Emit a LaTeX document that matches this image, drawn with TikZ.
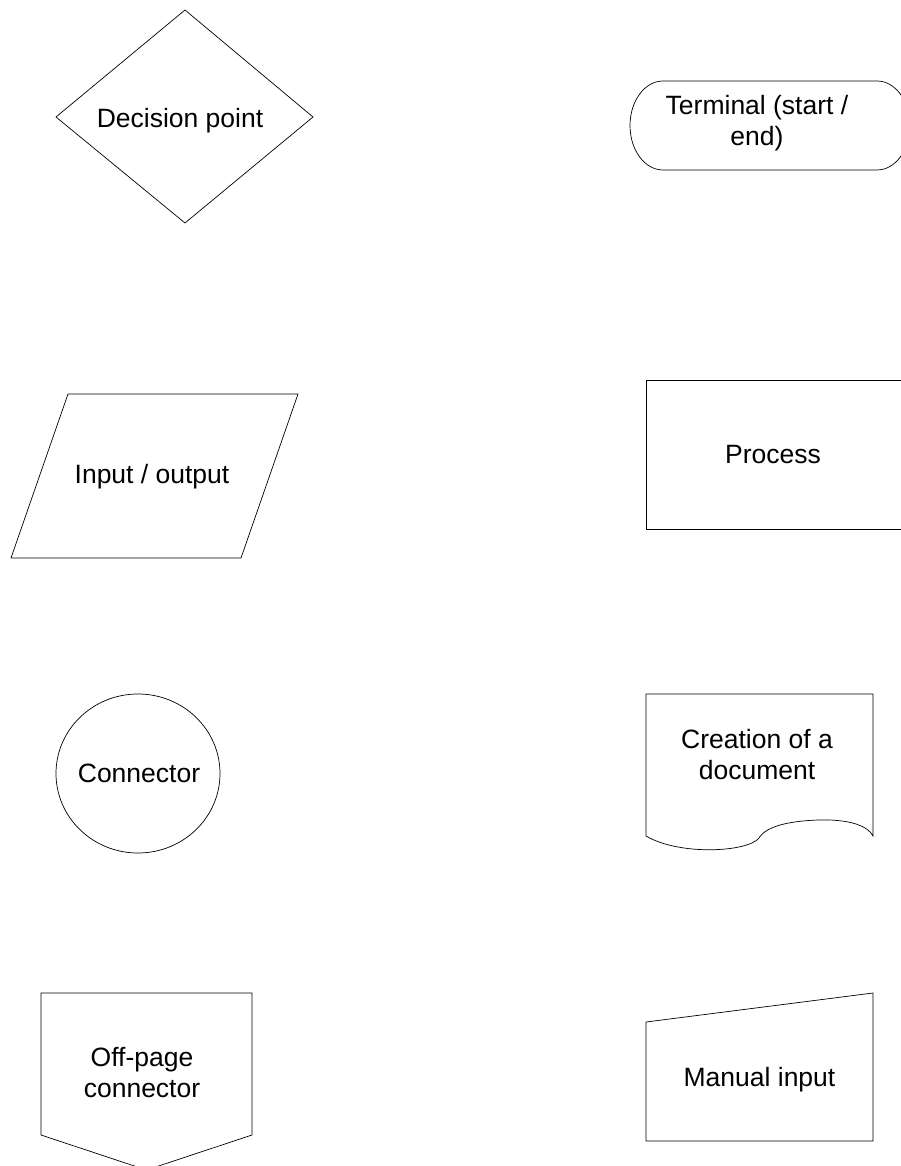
\documentclass[tikz,border=0pt]{standalone}
\usepackage{fontspec}
\setmainfont{Liberation Sans}
\usetikzlibrary{shapes.geometric}

\begin{document}
\begin{tikzpicture}[x=1pt, y=-1pt, line width=0.7pt,
    font=\fontsize{26.5}{31}\selectfont,
    every node/.style={align=center, inner sep=0pt}]
    \useasboundingbox (0,0) rectangle (900,1166);

    \draw (185,10) -- (313,117) -- (185,223) -- (56,117) -- cycle;
    \node[anchor=base] (decision) at (180,128) {Decision point};

    \draw (663,81) -- (877,81) arc (-90:90:33 and 44.5) -- (663,170) arc (90:270:33 and 44.5) -- cycle;
    \node (terminal) at (757,123.6) {Terminal (start /\\end)};

    \draw (68,394) -- (298,394) -- (241,558) -- (11,558) -- cycle;
    \node[anchor=base] (inout) at (152,483) {Input / output};

    \draw (646,380) rectangle (910,529);
    \node[anchor=base] (process) at (773,463) {Process};

    \node[draw, ellipse, minimum width=164, minimum height=159] (connector) at (138,773.5) {};
    \node[anchor=base] (connectortext) at (139,782) {Connector};

    \draw (646,836) -- (646,694) -- (873,694) -- (873,836)
        .. controls (868,826) and (850,819) .. (818,820)
        .. controls (790,821) and (766,826) .. (759,838)
        .. controls (748,852) and (680,856) .. (646,836);
    \node (document) at (757,754.4) {Creation of a\\document};

    \draw (41,993) -- (252,993) -- (252,1135) -- (146.5,1170) -- (41,1135) -- cycle;
    \node (offpage) at (142,1072.9) {Off-page\\connector};

    \draw (646,1022) -- (873,993) -- (873,1141) -- (646,1141) -- cycle;
    \node[anchor=base] (manual) at (759.5,1086) {Manual input};
\end{tikzpicture}
\end{document}
